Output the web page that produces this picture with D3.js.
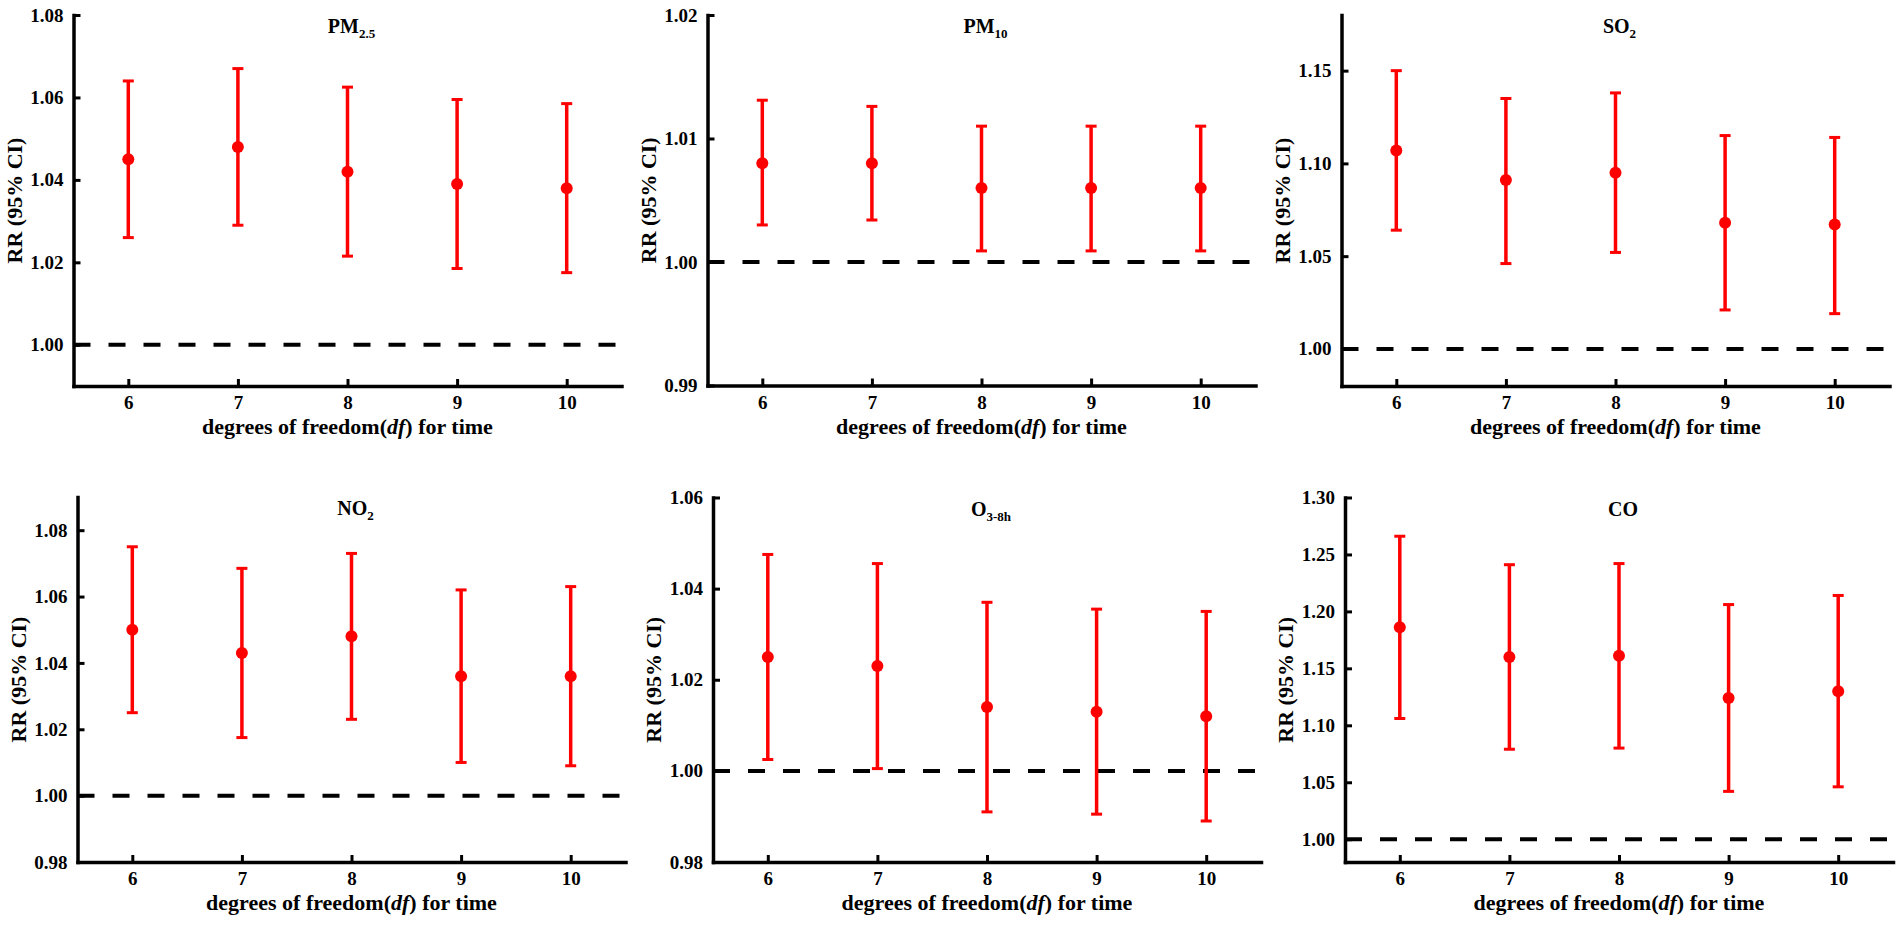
<!DOCTYPE html>
<html>
<head>
<meta charset="utf-8">
<script src="https://cdn.jsdelivr.net/npm/d3@7"></script>
<style>
	body { margin: 0; background: #fff; }
	svg text { font-family: "Liberation Serif", "Times New Roman", serif; font-weight: bold; fill: #000; }
</style>
</head>
<body>
<svg id="chart" width="1902" height="931"></svg>
<script>

// degrees of freedom for time (x categories)
var dfValues = [6, 7, 8, 9, 10];

// RR with 95% CI
var pm25RR   = [1.045, 1.048, 1.042, 1.039, 1.038];
var pm25Low  = [1.026, 1.029, 1.0215, 1.0185, 1.0175];
var pm25High = [1.064, 1.067, 1.0625, 1.0595, 1.0585];

var pm10RR   = [1.008, 1.008, 1.006, 1.006, 1.006];
var pm10Low  = [1.003, 1.0034, 1.0009, 1.0009, 1.0009];
var pm10High = [1.0131, 1.0126, 1.011, 1.011, 1.011];

var so2RR    = [1.107, 1.091, 1.095, 1.068, 1.067];
var so2Low   = [1.064, 1.046, 1.052, 1.021, 1.019];
var so2High  = [1.150, 1.135, 1.138, 1.115, 1.114];

var no2RR    = [1.050, 1.043, 1.048, 1.036, 1.036];
var no2Low   = [1.025, 1.0175, 1.023, 1.010, 1.009];
var no2High  = [1.075, 1.0685, 1.073, 1.062, 1.063];

var o3RR     = [1.025, 1.023, 1.014, 1.013, 1.012];
var o3Low    = [1.0025, 1.0005, 0.991, 0.9905, 0.989];
var o3High   = [1.0475, 1.0455, 1.037, 1.0355, 1.035];

var coRR     = [1.186, 1.160, 1.161, 1.124, 1.130];
var coLow    = [1.106, 1.079, 1.080, 1.042, 1.046];
var coHigh   = [1.266, 1.241, 1.242, 1.206, 1.214];

// y axis ranges and tick labels
var pm25Domain = [0.99, 1.08];  var pm25Ticks = [1.00, 1.02, 1.04, 1.06, 1.08];
var pm10Domain = [0.99, 1.02];  var pm10Ticks = [0.99, 1.00, 1.01, 1.02];
var so2Domain  = [0.98, 1.18];  var so2Ticks  = [1.00, 1.05, 1.10, 1.15];
var no2Domain  = [0.98, 1.09];  var no2Ticks  = [0.98, 1.00, 1.02, 1.04, 1.06, 1.08];
var o3Domain   = [0.98, 1.06];  var o3Ticks   = [0.98, 1.00, 1.02, 1.04, 1.06];
var coDomain   = [0.98, 1.30];  var coTicks   = [1.00, 1.05, 1.10, 1.15, 1.20, 1.25, 1.30];

var xDomain = [5.5, 10.5];
var refValue = 1.00;

// panel boxes (layout only)
var plotW = 548;
var boxes = [
	{left: 73.5, top: 15,    bottom: 386},
	{left: 707.5, top: 15,   bottom: 385.5},
	{left: 1341.5, top: 15,  bottom: 386},
	{left: 77.5, top: 497,   bottom: 862},
	{left: 713, top: 497.5,  bottom: 862},
	{left: 1345, top: 497.5, bottom: 862}
];

var panels = [
	{main: "PM", sub: "2.5", rr: pm25RR, lo: pm25Low, hi: pm25High, domain: pm25Domain, ticks: pm25Ticks},
	{main: "PM", sub: "10",  rr: pm10RR, lo: pm10Low, hi: pm10High, domain: pm10Domain, ticks: pm10Ticks},
	{main: "SO", sub: "2",   rr: so2RR,  lo: so2Low,  hi: so2High,  domain: so2Domain,  ticks: so2Ticks},
	{main: "NO", sub: "2",   rr: no2RR,  lo: no2Low,  hi: no2High,  domain: no2Domain,  ticks: no2Ticks},
	{main: "O",  sub: "3-8h",rr: o3RR,   lo: o3Low,   hi: o3High,   domain: o3Domain,   ticks: o3Ticks},
	{main: "CO", sub: "",    rr: coRR,   lo: coLow,   hi: coHigh,   domain: coDomain,   ticks: coTicks}
];

var red = "#ff0000";
var svg = d3.select("#chart");

panels.forEach(function(p, i) {
	var b = boxes[i];
	var h = b.bottom - b.top;
	var g = svg.append("g").attr("transform", "translate(" + b.left + "," + b.top + ")");

	var x = d3.scaleLinear().domain(xDomain).range([0, plotW]);
	var y = d3.scaleLinear().domain(p.domain).range([h, 0]);

	// reference line at RR = 1
	g.append("line")
		.attr("x1", x(xDomain[0]))
		.attr("x2", x(xDomain[1]) - 6)
		.attr("y1", y(refValue))
		.attr("y2", y(refValue))
		.attr("stroke", "#000")
		.attr("stroke-width", 4)
		.attr("stroke-dasharray", "17,18");

	// axes
	var yAxis = g.append("g")
		.call(d3.axisLeft(y).tickValues(p.ticks).tickFormat(d3.format(".2f"))
			.tickSizeInner(-7).tickSizeOuter(0).tickPadding(10));
	var xAxis = g.append("g")
		.attr("transform", "translate(0," + h + ")")
		.call(d3.axisBottom(x).tickValues(dfValues).tickFormat(d3.format("d"))
			.tickSizeInner(-7).tickSizeOuter(0).tickPadding(10));
	[yAxis, xAxis].forEach(function(a) {
		a.attr("font-family", null).attr("font-size", null);
		a.select(".domain").attr("stroke", "#000").attr("stroke-width", 3.5).attr("stroke-linecap", "square");
		a.selectAll(".tick line").attr("stroke", "#000").attr("stroke-width", 3);
		a.selectAll(".tick text").style("font-size", "19px");
	});

	// error bars
	var bars = g.selectAll("g.bar")
		.data(dfValues)
		.enter()
		.append("g")
		.attr("class", "bar");
	bars.append("line")
		.attr("x1", function(d) { return x(d); })
		.attr("x2", function(d) { return x(d); })
		.attr("y1", function(d, j) { return y(p.lo[j]); })
		.attr("y2", function(d, j) { return y(p.hi[j]); })
		.attr("stroke", red)
		.attr("stroke-width", 3.5);
	["lo", "hi"].forEach(function(k) {
		bars.append("line")
			.attr("x1", function(d) { return x(d) - 5.5; })
			.attr("x2", function(d) { return x(d) + 5.5; })
			.attr("y1", function(d, j) { return y(p[k][j]); })
			.attr("y2", function(d, j) { return y(p[k][j]); })
			.attr("stroke", red)
			.attr("stroke-width", 3);
	});
	bars.append("circle")
		.attr("cx", function(d) { return x(d); })
		.attr("cy", function(d, j) { return y(p.rr[j]); })
		.attr("r", 6)
		.attr("fill", red);

	// panel title
	var t = g.append("text")
		.attr("x", plotW / 2 + 4)
		.attr("y", 18)
		.attr("text-anchor", "middle")
		.style("font-size", "20px")
		.text(p.main);
	if (p.sub) {
		t.append("tspan")
			.attr("dy", 5)
			.style("font-size", "13px")
			.text(p.sub);
	}

	// axis titles
	var xt = g.append("text")
		.attr("x", plotW / 2)
		.attr("y", h + 48)
		.attr("text-anchor", "middle")
		.style("font-size", "22px");
	xt.append("tspan").text("degrees of freedom(");
	xt.append("tspan").style("font-style", "italic").text("df");
	xt.append("tspan").text(") for time");

	g.append("text")
		.attr("transform", "translate(-52," + (h / 2) + ") rotate(-90)")
		.attr("text-anchor", "middle")
		.style("font-size", "22px")
		.text("RR (95% CI)");
});

</script>
</body>
</html>
